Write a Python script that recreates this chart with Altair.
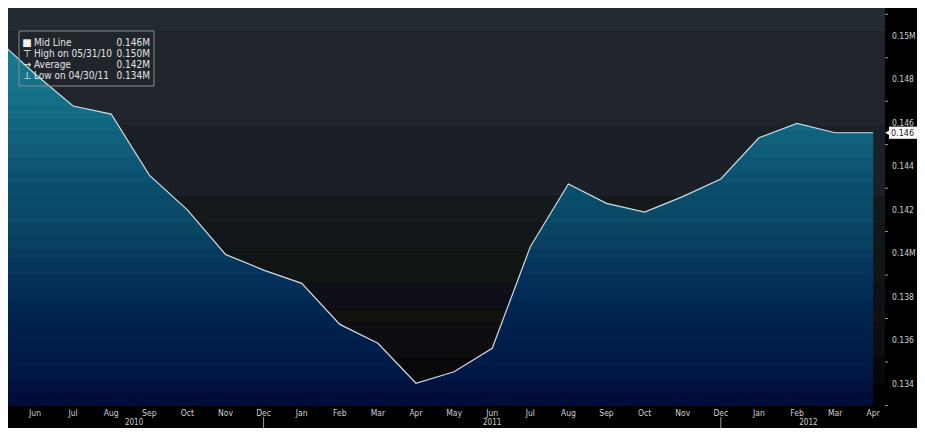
import altair as alt
import pandas as pd

# ---------------- data ----------------
month_index = list(range(-1, 23))          # -1 = May 2010 (month-end points)
values = [0.14986, 0.14825, 0.14678, 0.14641, 0.1436, 0.1420, 0.13995, 0.13923,
          0.13862, 0.13673, 0.13586, 0.13402, 0.13455, 0.13563, 0.1403, 0.14319,
          0.1423, 0.1419, 0.14261, 0.14342, 0.14532, 0.14598, 0.14555, 0.14555]
month_labels = ["Jun", "Jul", "Aug", "Sep", "Oct", "Nov", "Dec", "Jan", "Feb", "Mar", "Apr",
                "May", "Jun", "Jul", "Aug", "Sep", "Oct", "Nov", "Dec", "Jan", "Feb", "Mar", "Apr"]
year_labels = ["2010", "2011", "2012"]
year_pos = [2.6, 12.0, 20.3]
year_sep = [6, 18]
y_ticks = [0.134, 0.136, 0.138, 0.140, 0.142, 0.144, 0.146, 0.148, 0.150]
y_tick_labels = ["0.134", "0.136", "0.138", "0.14M", "0.142", "0.144", "0.146", "0.148", "0.15M"]
y_minor = [0.133, 0.135, 0.137, 0.139, 0.141, 0.143, 0.145, 0.147, 0.149, 0.151]
legend_icons = ["■", "⊤", "→", "⊥"]
legend_labels = ["Mid Line", "High on 05/31/10", "Average", "Low on 04/30/11"]
legend_values = ["0.146M", "0.150M", "0.142M", "0.134M"]
last_label = "0.146"

# background bands (value edges, top to bottom) and their colours
bg_edges = [0.15129, 0.1502, 0.1459, 0.1426, 0.1414, 0.1401, 0.1386, 0.1374, 0.1368,
            0.1352, 0.1340, 0.1300]
bg_colors = ["#242a32", "#20252c", "#1b1f27", "#14191c", "#11161a", "#111614",
             "#0f0f17", "#13120f", "#0e0e12", "#080808", "#000000"]

# ---------------- style ----------------
W, H = 877, 398
X_DOMAIN = [-0.7087, -0.7087 + W / 38.1]
Y_DOMAIN = [0.15129 - H / 21730.0, 0.15129]
FONT = "DejaVu Sans Condensed, Liberation Sans Narrow, DejaVu Sans"
xs = alt.Scale(domain=X_DOMAIN, nice=False, zero=False)
ys = alt.Scale(domain=Y_DOMAIN, nice=False, zero=False)


def hex2rgb(h):
    return [int(h[i:i + 2], 16) for i in (1, 3, 5)]


anchors = [(0.0, "#1a7d92"), (0.16, "#156f88"), (0.30, "#0f5e78"), (0.38, "#0a5072"),
           (0.52, "#094562"), (0.65, "#03305a"), (0.76, "#00244e"), (0.88, "#011a46"),
           (1.0, "#000a37")]


def col_at(f):
    for (f0, c0), (f1, c1) in zip(anchors[:-1], anchors[1:]):
        if f0 <= f <= f1:
            t = (f - f0) / (f1 - f0) if f1 > f0 else 0
            a, b = hex2rgb(c0), hex2rgb(c1)
            return "#" + "".join(f"{round(x + (y - x) * t):02x}" for x, y in zip(a, b))
    return anchors[-1][1]


N = 28
stops = []
for i in range(N):
    c = col_at((i + 0.5) / N)
    stops.append({"offset": i / N, "color": c})
    stops.append({"offset": (i + 1) / N, "color": c})
grad = alt.Gradient(gradient="linear", stops=stops, x1=0, x2=0, y1=0, y2=1)

# ---------------- tables ----------------
df = pd.DataFrame({"m": month_index, "v": values})
bg = pd.DataFrame({"top": bg_edges[:-1], "bot": bg_edges[1:], "c": bg_colors})
minor = pd.DataFrame({"v": y_minor})
yt = pd.DataFrame({"v": y_ticks, "t": y_tick_labels})
xt = pd.DataFrame({"m": list(range(len(month_labels))), "t": month_labels})
years = pd.DataFrame({"m": year_pos, "t": year_labels})
seps = pd.DataFrame({"m": year_sep})
leg = pd.DataFrame({"icon": legend_icons, "lab": legend_labels, "val": legend_values,
                    "row": list(range(len(legend_labels)))})
last = pd.DataFrame({"v": [values[-1]], "hi": [values[-1] + 0.00028],
                     "lo": [values[-1] - 0.00028], "t": [last_label]})
one = pd.DataFrame({"a": [0]})

# ---------------- layers ----------------
background = alt.Chart(bg).mark_rect(clip=True).encode(
    x=alt.value(0), x2=alt.value(W),
    y=alt.Y("top:Q", scale=ys, axis=None), y2="bot:Q",
    color=alt.Color("c:N", scale=None),
)

area = alt.Chart(df).mark_area(clip=True, color=grad, interpolate="linear").encode(
    x=alt.X("m:Q", scale=xs, axis=None),
    y=alt.Y("v:Q", scale=ys, axis=None),
    y2=alt.datum(Y_DOMAIN[0]),
)

line = alt.Chart(df).mark_line(clip=True, color="#d9d9d9", strokeWidth=1.2).encode(
    x=alt.X("m:Q", scale=xs, axis=alt.Axis(
        orient="bottom", values=list(range(len(month_labels))), labels=False,
        title=None, grid=False, domainColor="#8a8a8a", tickColor="#e0e0e0", tickSize=2)),
    y=alt.Y("v:Q", scale=ys, axis=alt.Axis(
        orient="right", values=y_ticks, labels=False, title=None, grid=False,
        domainColor="#8a8a8a", tickColor="#ffffff", tickSize=5, tickWidth=2)),
)

minor_ticks = alt.Chart(minor).mark_rule(color="#9a9a9a", strokeWidth=1).encode(
    x=alt.value(W), x2=alt.value(W + 3),
    y=alt.Y("v:Q", scale=ys, axis=None),
)

y_labels = alt.Chart(yt).mark_text(
    color="#d0d0d0", font=FONT, fontSize=8.5, align="left", baseline="middle").encode(
    x=alt.value(W + 7), y=alt.Y("v:Q", scale=ys, axis=None), text="t:N")

x_labels = alt.Chart(xt).mark_text(
    color="#cfcfcf", font=FONT, fontSize=8.5, align="center", baseline="top").encode(
    x=alt.X("m:Q", scale=xs, axis=None), y=alt.value(H + 3), text="t:N")

year_text = alt.Chart(years).mark_text(
    color="#cfcfcf", font=FONT, fontSize=8, baseline="top", align="center").encode(
    x=alt.X("m:Q", scale=xs, axis=None), y=alt.value(H + 13), text="t:N")

year_rules = alt.Chart(seps).mark_rule(color="#a0a0a0", strokeWidth=1).encode(
    x=alt.X("m:Q", scale=xs, axis=None), y=alt.value(H + 11), y2=alt.value(H + 22))

legend_box = alt.Chart(one).mark_rect(
    fill="#20252c", fillOpacity=0.0, stroke="#8c8c8c", strokeWidth=1).encode(
    x=alt.value(11), x2=alt.value(146), y=alt.value(23), y2=alt.value(78))

legend_base = alt.Chart(leg).transform_calculate(py="34.5 + 11.3 * datum.row")

legend_icon = legend_base.mark_text(
    color="#f2f2f2", font="DejaVu Sans", fontSize=10, align="center", baseline="middle").encode(
    x=alt.value(19), y=alt.Y("py:Q", scale=None, axis=None), text="icon:N")

legend_lab = legend_base.mark_text(
    color="#e4e4e4", font=FONT, fontSize=10, align="left", baseline="middle").encode(
    x=alt.value(26), y=alt.Y("py:Q", scale=None, axis=None), text="lab:N")

legend_val = legend_base.mark_text(
    color="#e4e4e4", font=FONT, fontSize=10, align="right", baseline="middle").encode(
    x=alt.value(142), y=alt.Y("py:Q", scale=None, axis=None), text="val:N")

tag_box = alt.Chart(last).mark_rect(fill="#ffffff").encode(
    x=alt.value(W + 4), x2=alt.value(W + 32),
    y=alt.Y("hi:Q", scale=ys, axis=None), y2="lo:Q")

tag_arrow = alt.Chart(last).mark_point(
    shape="triangle-left", filled=True, fill="#ffffff", opacity=1, size=45).encode(
    x=alt.value(W + 3), y=alt.Y("v:Q", scale=ys, axis=None))

tag_text = alt.Chart(last).mark_text(
    color="#202020", font=FONT, fontSize=9, align="left", baseline="middle").encode(
    x=alt.value(W + 6), y=alt.Y("v:Q", scale=ys, axis=None), text="t:N")

chart = alt.layer(
    background, area, line, minor_ticks, y_labels, x_labels, year_text, year_rules,
    legend_box, legend_icon, legend_lab, legend_val, tag_box, tag_arrow, tag_text,
).properties(
    width=W, height=H, background="#000000",
    padding={"left": 0, "top": 0, "right": 32, "bottom": 22},
    autosize=alt.AutoSizeParams(type="none"),
).configure_view(stroke=None)

chart.save("out.html", embed_options={"renderer": "svg", "actions": False})
